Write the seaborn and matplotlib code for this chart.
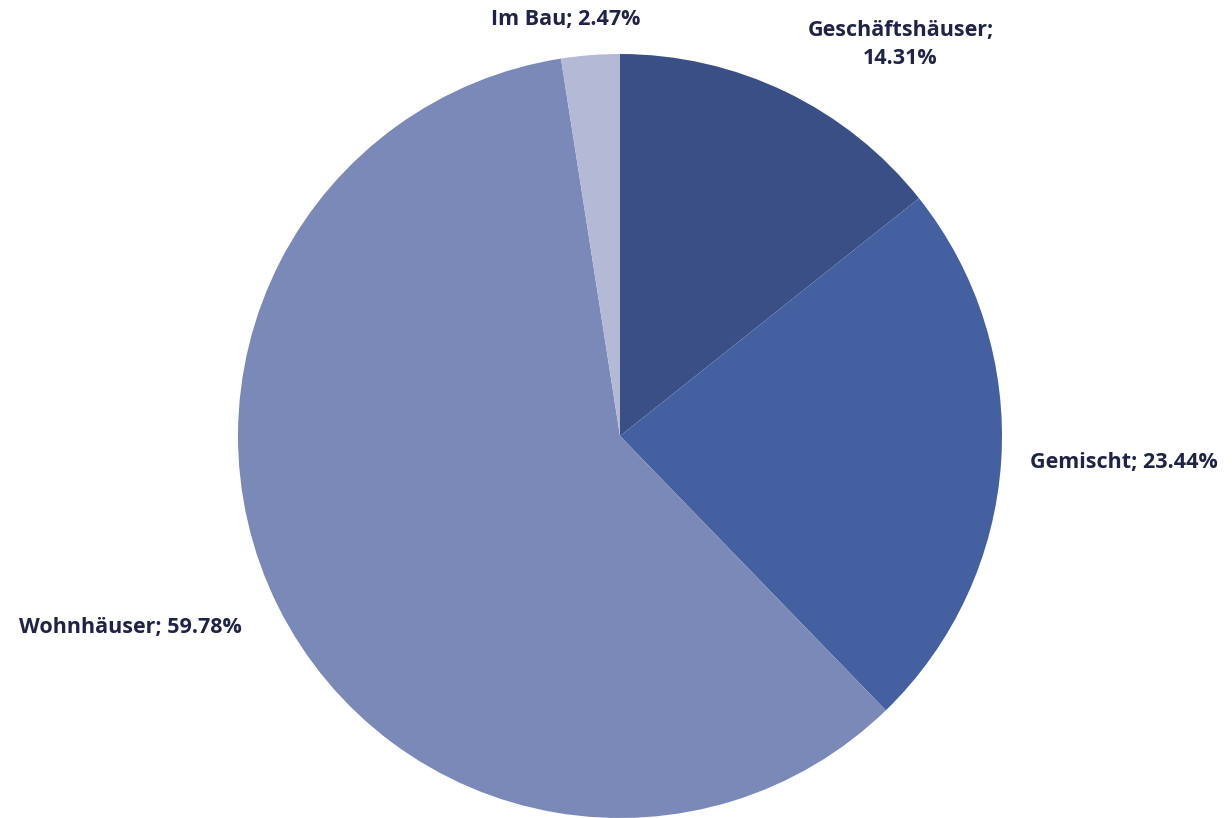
import matplotlib
matplotlib.use("Agg")
import matplotlib.pyplot as plt
import seaborn as sns

# data
categories = ["Geschäftshäuser", "Gemischt", "Wohnhäuser", "Im Bau"]
shares = [14.31, 23.44, 59.78, 2.47]
colors = ["#3A4F86", "#4560A0", "#7B89B9", "#B4BAD6"]

# label text layout (axes fraction), style only
label_pos = [(0.731, 0.946), (0.912, 0.434), (0.106, 0.233), (0.459, 0.976)]
label_sep = ["\n", " ", " ", " "]

sns.set_style("white")
plt.rcParams["font.family"] = ["Open Sans", "DejaVu Sans"]

fig = plt.figure(figsize=(12.32, 8.18), dpi=100)
ax = fig.add_axes([0, 0, 1, 1])

# pie centre (620, 436) px, radius 382 px
r = 382
cx, cy = 620, 818 - 436
ax.pie(shares, colors=colors, startangle=90, counterclock=False,
       radius=1, center=(0, 0), wedgeprops=dict(linewidth=0))
ax.set_xlim(-cx / r, (1232 - cx) / r)
ax.set_ylim(-cy / r, (818 - cy) / r)
ax.set_aspect("auto")
ax.axis("off")

for name, val, (x, y), sep in zip(categories, shares, label_pos, label_sep):
    ax.text(x, y, f"{name};{sep}{val:.2f}%", transform=ax.transAxes,
            ha="center", va="center", fontsize=15.5, fontweight="bold",
            color="#1F2347", linespacing=1.45)

fig.savefig("out.png", dpi=100, facecolor="white")
